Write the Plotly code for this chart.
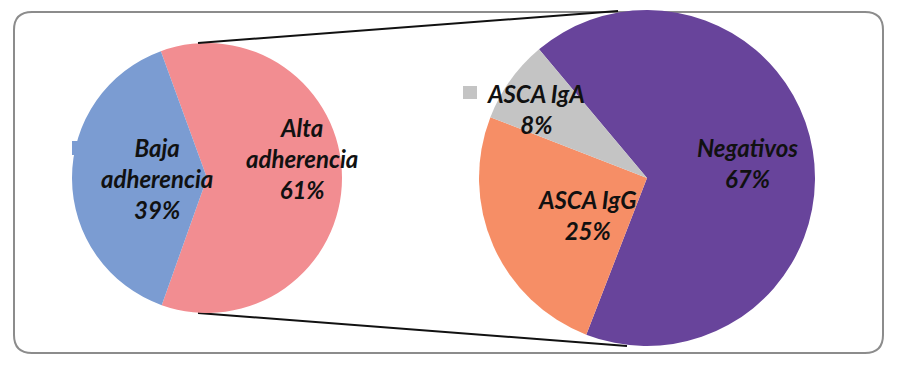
import plotly.graph_objects as go

# ---- data ----
left_labels = ["Alta adherencia", "Baja adherencia"]
left_values = [61, 39]
left_colors = ["#F28D91", "#7B9CD2"]

right_labels = ["Negativos", "ASCA IgG", "ASCA IgA"]
right_values = [67, 25, 8]
right_colors = ["#68449B", "#F68E66", "#C4C4C4"]

# label texts (display form with line breaks)
left_text = ["Alta<br>adherencia", "Baja<br>adherencia"]
right_text = ["Negativos", "ASCA IgG", "ASCA IgA"]

# ---- layout geometry (page pixels) ----
OFF = 8                       # default page body margin
W, H = 897 - 2 * OFF, 366 - 2 * OFF
cxL, cyL, rL = 207, 178, 135
cxR, cyR, rR = 647, 178, 168


def fx(px):
    return (px - OFF) / W


def fy(py):
    return 1 - (py - OFF) / H


fig = go.Figure()

fig.add_trace(go.Pie(
    labels=left_labels, values=left_values, sort=False, direction="clockwise",
    rotation=-20, marker=dict(colors=left_colors, line=dict(width=0)),
    textinfo="none", hoverinfo="label+percent", showlegend=False,
    domain=dict(x=[fx(cxL - rL), fx(cxL + rL)], y=[fy(cyL + rL), fy(cyL - rL)]),
))
fig.add_trace(go.Pie(
    labels=right_labels, values=right_values, sort=False, direction="clockwise",
    rotation=-40, marker=dict(colors=right_colors, line=dict(width=0)),
    textinfo="none", hoverinfo="label+percent", showlegend=False,
    domain=dict(x=[fx(cxR - rR), fx(cxR + rR)], y=[fy(cyR + rR), fy(cyR - rR)]),
))

shapes = []
# rounded frame
x0, y0, x1, y1, rad = fx(14), fy(12), fx(883), fy(353), 18
rx, ry = rad / W, rad / H
path = (f"M {x0+rx},{y0} L {x1-rx},{y0} Q {x1},{y0} {x1},{y0-ry} "
        f"L {x1},{y1+ry} Q {x1},{y1} {x1-rx},{y1} L {x0+rx},{y1} "
        f"Q {x0},{y1} {x0},{y1+ry} L {x0},{y0-ry} Q {x0},{y0} {x0+rx},{y0} Z")
shapes.append(dict(type="path", xref="paper", yref="paper", path=path,
                   line=dict(color="#8C8C8C", width=2), layer="below"))
# connector lines
shapes.append(dict(type="line", xref="paper", yref="paper",
                   x0=fx(cxL - 9), y0=fy(cyL - rL), x1=fx(cxR - 29), y1=fy(cyR - rR + 1),
                   line=dict(color="#111111", width=2), layer="above"))
shapes.append(dict(type="line", xref="paper", yref="paper",
                   x0=fx(cxL - 9), y0=fy(cyL + rL), x1=fx(cxR - 20), y1=fy(cyR + rR),
                   line=dict(color="#111111", width=2), layer="below"))
# partially hidden legend keys
shapes.append(dict(type="rect", xref="paper", yref="paper",
                   x0=fx(72), x1=fx(86), y0=fy(155), y1=fy(141),
                   fillcolor=left_colors[1], line=dict(width=0), layer="below"))
shapes.append(dict(type="rect", xref="paper", yref="paper",
                   x0=fx(463), x1=fx(477), y0=fy(99), y1=fy(86),
                   fillcolor=right_colors[2], line=dict(width=0), layer="below"))

# label anchor positions (page pixels)
left_pos = [(302, 158), (157, 178)]
right_pos = [(747, 163), (587, 215), (536, 109)]

font = dict(family="Lato", size=24, color="#111111", weight="bold", style="italic")
annotations = []
for txt, v, (px, py) in zip(left_text, left_values, left_pos):
    annotations.append(dict(text=f"{txt}<br>{v}%", x=fx(px), y=fy(py), xref="paper",
                            yref="paper", xanchor="center", yanchor="middle",
                            showarrow=False, font=font, align="center"))
for txt, v, (px, py) in zip(right_text, right_values, right_pos):
    annotations.append(dict(text=f"{txt}<br>{v}%", x=fx(px), y=fy(py), xref="paper",
                            yref="paper", xanchor="center", yanchor="middle",
                            showarrow=False, font=font, align="center"))

fig.update_layout(
    width=W, height=H, margin=dict(l=0, r=0, t=0, b=0),
    paper_bgcolor="white", plot_bgcolor="white",
    shapes=shapes, annotations=annotations,
)

fig.write_html("out.html")
